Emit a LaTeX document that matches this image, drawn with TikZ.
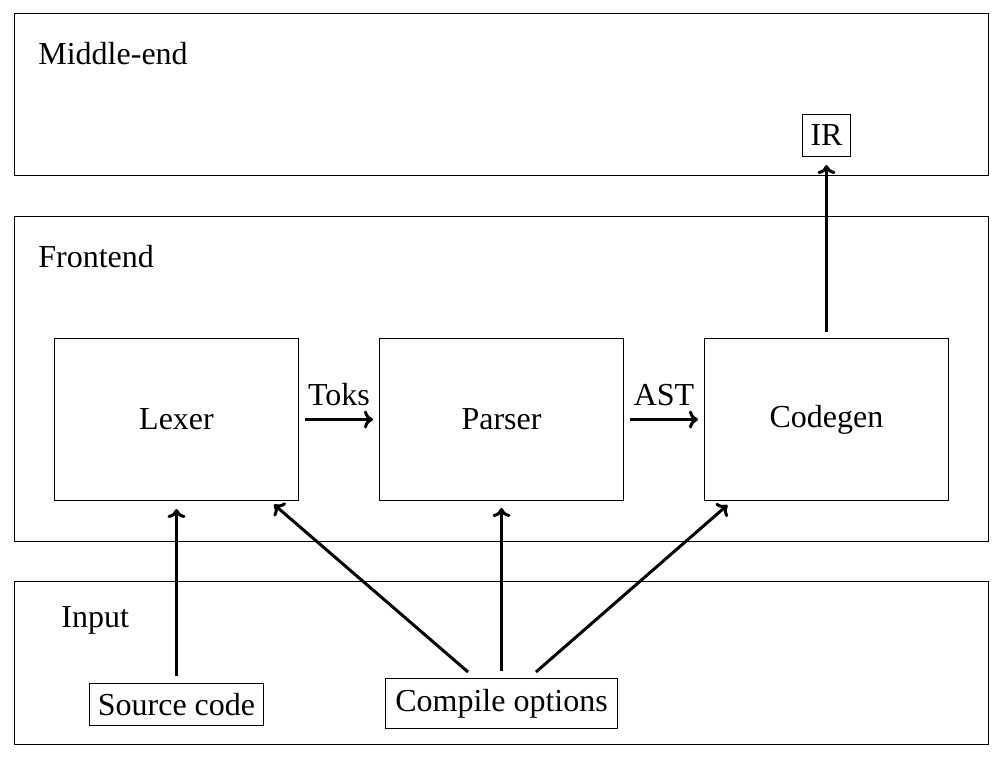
\documentclass[tikz,border=0pt]{standalone}
\usepackage{fontspec}
\setmainfont{Liberation Serif}
\usetikzlibrary{calc,arrows.meta}
\begin{document}
\begin{tikzpicture}[x=0.5pt,y=-0.5pt,
  every node/.style={font=\fontsize{16}{19}\selectfont},
  group/.style={draw,line width=0.55pt,inner sep=0pt,minimum width=487pt},
  stage/.style={draw,line width=0.55pt,inner sep=0pt,minimum width=122pt,minimum height=81pt},
  smallbox/.style={draw,line width=0.55pt,inner sep=0pt},
  title/.style={anchor=base west,inner sep=0pt},
  flow/.style={-{To[length=4.5pt,width=9pt]},line width=1.5pt},
  lbl/.style={above=6pt,inner sep=0pt}]
\useasboundingbox (0,0) rectangle (1005,759);
% containers
\node[group,minimum height=81pt] (mid) at (501.5,94.5) {};
\node[group,minimum height=162.5pt] (front) at (501.5,379) {};
\node[group,minimum height=81.5pt] (input) at (501.5,663) {};
\node[title] (midlbl) at (38,64.3) {Middle-end};
\node[title] (frontlbl) at (38,267.7) {Frontend};
\node[title] (inputlbl) at (61,627.7) {Input};
% stages
\node[stage] (lexer) at (176.5,419.5) {Lexer};
\node[stage] (parser) at (501.5,419.5) {Parser};
\node[stage] (codegen) at (826.5,419.5) {Codegen};
\node[smallbox,minimum width=24pt,minimum height=21pt] (ir) at (826.5,135.5) {IR};
\node[smallbox,minimum width=87pt,minimum height=21pt] (src) at (176.5,704.5) {Source code};
\node[smallbox,minimum width=116pt,minimum height=25pt] (opts) at (501.5,703.5) {Compile options};
% connectors
\draw[flow,shorten <=3pt,shorten >=3pt] (lexer) -- node[lbl] (toks) {Toks} (parser);
\draw[flow,shorten <=3pt,shorten >=3pt] (parser) -- node[lbl] (ast) {AST} (codegen);
\draw[flow,shorten <=3pt,shorten >=4pt] (codegen) -- (ir);
\draw[flow,shorten <=3.5pt,shorten >=4pt] (src) -- (lexer);
\draw[flow] ($(opts.north)+(-33.5,-6)$) -- ($(lexer.south east)+(-25,3.5)$);
\draw[flow,shorten <=3.5pt,shorten >=3.5pt] (opts) -- (parser);
\draw[flow] ($(opts.north)+(34.5,-6)$) -- ($(codegen.south west)+(23.5,4)$);
\end{tikzpicture}
\end{document}
